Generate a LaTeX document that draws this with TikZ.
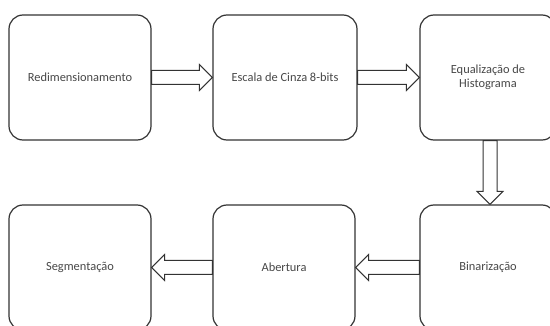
\documentclass[tikz,border=0pt]{standalone}
\usepackage{fontspec}
\setmainfont{Carlito}
\usetikzlibrary{calc}
\newcommand{\blockarrow}[2]{%
  \draw[barrow]
    ($(#1)!7pt!90:(#2)$) --
    ($($(#2)!13pt!(#1)$)!7pt!90:(#2)$) --
    ($($(#2)!13pt!(#1)$)!13pt!90:(#2)$) --
    (#2) --
    ($($(#2)!13pt!(#1)$)!13pt!-90:(#2)$) --
    ($($(#2)!13pt!(#1)$)!7pt!-90:(#2)$) --
    ($(#1)!7pt!-90:(#2)$) -- cycle;}
\begin{document}
\begin{tikzpicture}[x=1pt,y=-1pt,
  box/.style={draw=black!80, line width=1.2pt, rounded corners=14pt,
    minimum height=125pt, inner sep=0pt, align=center,
    font=\fontsize{12.4}{14}\selectfont, text=black!72},
  barrow/.style={draw=black!80, line width=1pt, fill=white, line join=miter}]
\useasboundingbox (0,0) rectangle (550,326);
\clip (0,0) rectangle (550,326);
\node[box, minimum width=142pt] (a) at (80,77.5) {Redimensionamento};
\node[box, minimum width=144pt] (b) at (285,77.5) {Escala de Cinza 8-bits};
\node[box, minimum width=136pt] (c) at (488,77.5) {Equalização de\\Histograma};
\node[box, minimum width=136pt] (d) at (488,267.5) {Binarização};
\node[box, minimum width=142pt] (e) at (284,267.5) {Abertura};
\node[box, minimum width=142pt] (f) at (80,267.5) {Segmentação};
\coordinate (cd1) at (c.south -| 490,0);
\coordinate (cd2) at (d.north -| 490,0);
\blockarrow{a.east}{b.west}
\blockarrow{b.east}{c.west}
\blockarrow{cd1}{cd2}
\blockarrow{d.west}{e.east}
\blockarrow{e.west}{f.east}
\end{tikzpicture}
\end{document}
